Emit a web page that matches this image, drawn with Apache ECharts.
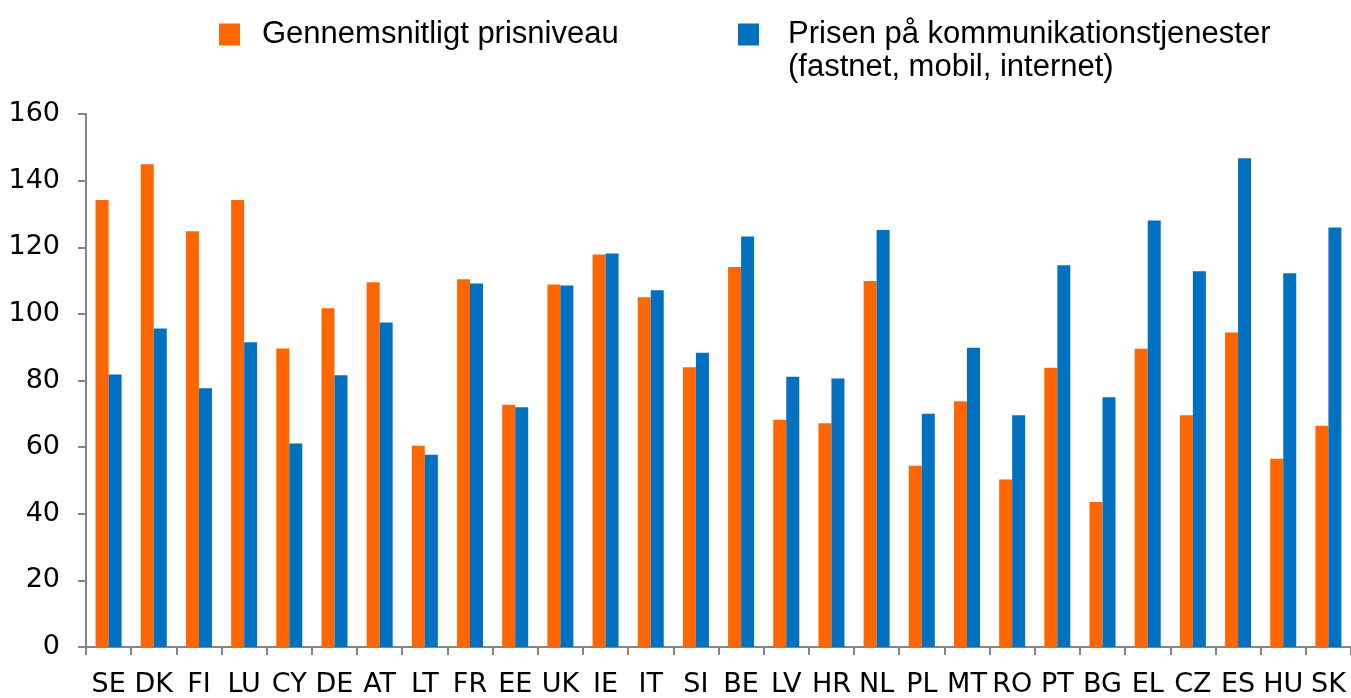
<!DOCTYPE html>
<html>
<head>
<meta charset="utf-8">
<script src="https://cdn.jsdelivr.net/npm/echarts@6/dist/echarts.min.js"></script>
<style>
  html, body { margin: 0; padding: 0; background: #fff; }
  #chart { width: 1351px; height: 698px; }
</style>
</head>
<body>
<div id="chart"></div>
<script>
// landekoder langs x-aksen
const countries = ['SE', 'DK', 'FI', 'LU', 'CY', 'DE', 'AT', 'LT', 'FR', 'EE', 'UK', 'IE', 'IT', 'SI',
  'BE', 'LV', 'HR', 'NL', 'PL', 'MT', 'RO', 'PT', 'BG', 'EL', 'CZ', 'ES', 'HU', 'SK']
// gennemsnitligt prisniveau
const priceLevel = [134.2, 144.9, 124.8, 134.2, 89.6, 101.7, 109.5, 60.4, 110.4, 72.7, 108.8, 117.8, 105.0, 84.0,
  114.1, 68.2, 67.2, 109.9, 54.4, 73.8, 50.3, 83.8, 43.5, 89.5, 69.6, 94.4, 56.5, 66.4]
// prisen på kommunikationstjenester
const commPrice = [81.8, 95.6, 77.7, 91.5, 61.1, 81.6, 97.4, 57.7, 109.1, 72.0, 108.5, 118.1, 107.1, 88.3,
  123.2, 81.1, 80.6, 125.2, 70.0, 89.8, 69.6, 114.6, 75.0, 128.0, 112.8, 146.7, 112.2, 125.9]
const yTicks = [0, 20, 40, 60, 80, 100, 120, 140, 160]

const name1 = 'Gennemsnitligt prisniveau'
const name2 = 'Prisen på kommunikationstjenester'
const name2Sub = '(fastnet, mobil, internet)'

const chart = echarts.init(document.getElementById('chart'), null, { renderer: 'canvas' })

const legendFont = {
  fontFamily: 'Liberation Sans',
  fontSize: 31,
  color: '#000'
}

chart.setOption({
  animation: false,
  legend: [
    {
      data: [name1],
      left: 214,
      top: 14,
      itemWidth: 21,
      itemHeight: 22,
      icon: 'rect',
      textStyle: Object.assign({}, legendFont, { padding: [0, 0, 0, 17] })
    },
    {
      data: [name2],
      left: 733,
      top: 14,
      itemWidth: 21,
      itemHeight: 22,
      icon: 'rect',
      textStyle: Object.assign({}, legendFont, { padding: [0, 0, 0, 24] })
    }
  ],
  graphic: [
    {
      // anden linje af den blå forklaring
      type: 'text',
      left: 788,
      top: 52,
      style: Object.assign({ text: name2Sub }, legendFont)
    }
  ],
  grid: {
    left: 86,
    top: 114,
    width: 1271,
    height: 537,
    containLabel: false
  },
  xAxis: {
    type: 'category',
    data: countries,
    axisLine: { lineStyle: { color: '#868686', width: 2 } },
    axisTick: { show: true, length: 8, lineStyle: { color: '#868686', width: 2 } },
    axisLabel: {
      interval: 0,
      margin: 24,
      color: '#000',
      fontFamily: 'DejaVu Sans',
      fontSize: 27
    }
  },
  yAxis: {
    type: 'value',
    min: yTicks[0],
    max: yTicks[yTicks.length - 1],
    interval: 20,
    splitLine: { show: false },
    axisLine: { show: true, lineStyle: { color: '#868686', width: 2 } },
    axisTick: { show: true, length: 8, lineStyle: { color: '#868686', width: 2 } },
    axisLabel: {
      margin: 26,
      color: '#000',
      fontFamily: 'DejaVu Sans',
      fontSize: 27
    }
  },
  series: [
    {
      type: 'bar',
      name: name1,
      data: priceLevel,
      barWidth: 13,
      barGap: '0%',
      itemStyle: { color: '#FF6600' }
    },
    {
      type: 'bar',
      name: name2,
      data: commPrice,
      barWidth: 13,
      itemStyle: { color: '#0070C0' }
    }
  ]
})
</script>
</body>
</html>
